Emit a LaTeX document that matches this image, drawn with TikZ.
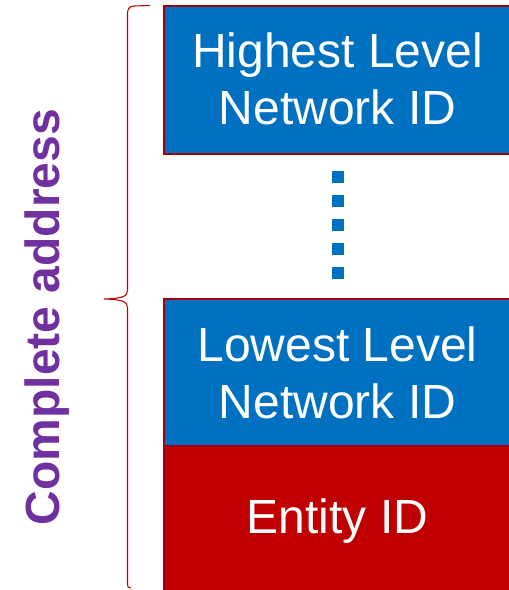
\documentclass[tikz,border=0pt]{standalone}
\usepackage{fontspec}
\setmainfont{Liberation Sans}
\definecolor{netblue}{HTML}{0070C0}
\definecolor{entred}{HTML}{C00000}
\definecolor{edgered}{HTML}{A00010}
\definecolor{labelpurple}{HTML}{7030A0}
\begin{document}
\begin{tikzpicture}[x=0.75pt,y=-0.75pt,
  layer/.style={draw=edgered, line width=1.5pt, inner sep=0pt,
    anchor=north west, minimum width=270pt},
  netbox/.style={layer, fill=netblue},
  entbox/.style={layer, fill=entred},
  layertext/.style={text=white, align=center, inner sep=0pt,
    font=\fontsize{36}{43}\selectfont},
  dotsq/.style={fill=netblue, minimum size=9pt, inner sep=0pt}]
\useasboundingbox (0,0) rectangle (508,590);
% address layers (they run on past the right and bottom edges)
\node[netbox, minimum height=111pt] (high) at (163,5) {};
\node[netbox, minimum height=110.25pt] (low) at (163,298) {};
\node[entbox, minimum height=120pt] (ent) at (163,445) {};
\node[layertext] (hightext) at (337.5,79) {Highest Level\\Network ID};
\node[layertext] (lowtext) at (337.5,373) {Lowest Level\\Network ID};
\node[layertext] (enttext) at (337.5,521) {Entity ID};
% vertical ellipsis between the network layers
\foreach \i/\y in {1/177,2/201,3/225,4/249,5/273}
  \node[dotsq] (dot\i) at (338,\y) {};
% brace spanning the whole address
\draw[entred, line width=0.8pt]
  (150,5.5) -- (134,6) .. controls (129,6.5) and (127.5,9) .. (127.5,14)
  -- (127.5,290) .. controls (127.5,296) and (124,298.5) .. (104,299)
  .. controls (124,299.5) and (127.5,302) .. (127.5,308)
  -- (127.5,584) .. controls (127.5,587) .. (131,588);
% side label
\node[text=labelpurple, rotate=90, font=\fontsize{36}{36}\selectfont\bfseries]
  (label) at (47.5,317) {Complete address};
\end{tikzpicture}
\end{document}
